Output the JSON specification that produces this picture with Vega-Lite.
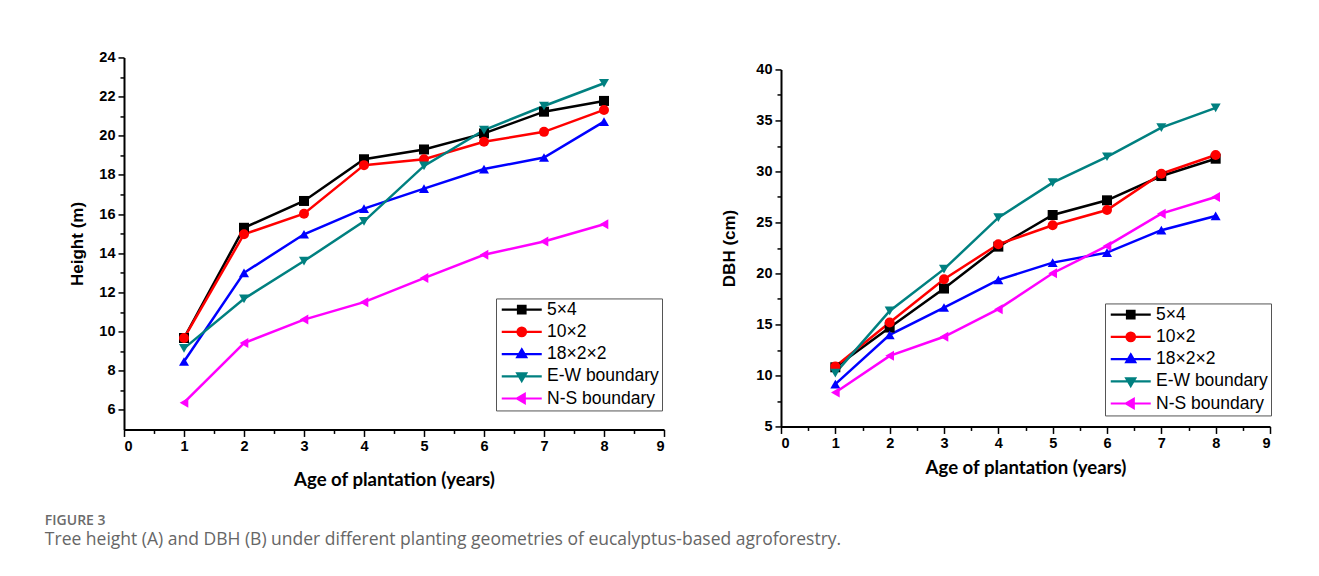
{
  "$schema": "https://vega.github.io/schema/vega-lite/v6.json",
  "padding": {"left": 44, "top": 49, "right": 0, "bottom": 0},
  "spacing": 55,
  "center": true,
  "background": "white",
  "resolve": {"scale": {"color": "independent", "shape": "independent", "stroke": "independent"}, "legend": {"color": "independent", "shape": "independent", "stroke": "independent"}},
  "config": {
    "view": {"stroke": null},
    "axis": {"grid": false, "domainColor": "#000", "tickColor": "#000", "labelColor": "#000", "titleColor": "#000", "domainWidth": 2, "tickWidth": 1.5, "labelFont": "Liberation Sans", "labelFontWeight": "bold", "labelFontSize": 14.5, "titleFont": "Liberation Sans", "titleFontWeight": "bold"},
    "legend": {"title": null, "orient": "none", "padding": 2.5, "strokeColor": "#555", "fillColor": "white", "labelFont": "Liberation Sans", "labelFontSize": 17.5, "labelColor": "#000", "rowPadding": 3.2, "symbolSize": 100, "symbolOffset": 14.5, "labelOffset": 16.5, "symbolStrokeWidth": 2.2}
  },
  "title": {"text": "FIGURE 3", "subtitle": "Tree height (A) and DBH (B) under different planting geometries of eucalyptus-based agroforestry.", "orient": "bottom", "anchor": "start", "frame": "bounds", "offset": 24, "dx": -24, "font": "Open Sans", "fontSize": 14, "fontWeight": 600, "color": "#6b6b6b", "subtitleFont": "Open Sans", "subtitleFontSize": 17.5, "subtitleColor": "#666666", "subtitlePadding": 3},
  "datasets": {
    "height": [
      {"age": 1, "series": "5×4", "value": 9.67}, {"age": 2, "series": "5×4", "value": 15.3}, {"age": 3, "series": "5×4", "value": 16.67}, {"age": 4, "series": "5×4", "value": 18.8}, {"age": 5, "series": "5×4", "value": 19.3}, {"age": 6, "series": "5×4", "value": 20.12}, {"age": 7, "series": "5×4", "value": 21.23}, {"age": 8, "series": "5×4", "value": 21.78},
      {"age": 1, "series": "10×2", "value": 9.67}, {"age": 2, "series": "10×2", "value": 14.97}, {"age": 3, "series": "10×2", "value": 16.02}, {"age": 4, "series": "10×2", "value": 18.5}, {"age": 5, "series": "10×2", "value": 18.8}, {"age": 6, "series": "10×2", "value": 19.69}, {"age": 7, "series": "10×2", "value": 20.2}, {"age": 8, "series": "10×2", "value": 21.32},
      {"age": 1, "series": "18×2×2", "value": 8.47}, {"age": 2, "series": "18×2×2", "value": 13.0}, {"age": 3, "series": "18×2×2", "value": 14.97}, {"age": 4, "series": "18×2×2", "value": 16.28}, {"age": 5, "series": "18×2×2", "value": 17.3}, {"age": 6, "series": "18×2×2", "value": 18.3}, {"age": 7, "series": "18×2×2", "value": 18.89}, {"age": 8, "series": "18×2×2", "value": 20.72},
      {"age": 1, "series": "E-W boundary", "value": 9.14}, {"age": 2, "series": "E-W boundary", "value": 11.67}, {"age": 3, "series": "E-W boundary", "value": 13.6}, {"age": 4, "series": "E-W boundary", "value": 15.63}, {"age": 5, "series": "E-W boundary", "value": 18.46}, {"age": 6, "series": "E-W boundary", "value": 20.29}, {"age": 7, "series": "E-W boundary", "value": 21.52}, {"age": 8, "series": "E-W boundary", "value": 22.68},
      {"age": 1, "series": "N-S boundary", "value": 6.37}, {"age": 2, "series": "N-S boundary", "value": 9.41}, {"age": 3, "series": "N-S boundary", "value": 10.61}, {"age": 4, "series": "N-S boundary", "value": 11.5}, {"age": 5, "series": "N-S boundary", "value": 12.73}, {"age": 6, "series": "N-S boundary", "value": 13.92}, {"age": 7, "series": "N-S boundary", "value": 14.6}, {"age": 8, "series": "N-S boundary", "value": 15.48}
    ],
    "dbh": [
      {"age": 1, "series": "5×4", "value": 10.8}, {"age": 2, "series": "5×4", "value": 14.7}, {"age": 3, "series": "5×4", "value": 18.52}, {"age": 4, "series": "5×4", "value": 22.63}, {"age": 5, "series": "5×4", "value": 25.73}, {"age": 6, "series": "5×4", "value": 27.17}, {"age": 7, "series": "5×4", "value": 29.55}, {"age": 8, "series": "5×4", "value": 31.25},
      {"age": 1, "series": "10×2", "value": 10.88}, {"age": 2, "series": "10×2", "value": 15.19}, {"age": 3, "series": "10×2", "value": 19.44}, {"age": 4, "series": "10×2", "value": 22.86}, {"age": 5, "series": "10×2", "value": 24.72}, {"age": 6, "series": "10×2", "value": 26.22}, {"age": 7, "series": "10×2", "value": 29.78}, {"age": 8, "series": "10×2", "value": 31.61},
      {"age": 1, "series": "18×2×2", "value": 9.15}, {"age": 2, "series": "18×2×2", "value": 13.98}, {"age": 3, "series": "18×2×2", "value": 16.66}, {"age": 4, "series": "18×2×2", "value": 19.37}, {"age": 5, "series": "18×2×2", "value": 21.06}, {"age": 6, "series": "18×2×2", "value": 22.04}, {"age": 7, "series": "18×2×2", "value": 24.24}, {"age": 8, "series": "18×2×2", "value": 25.64},
      {"age": 1, "series": "E-W boundary", "value": 10.23}, {"age": 2, "series": "E-W boundary", "value": 16.33}, {"age": 3, "series": "E-W boundary", "value": 20.42}, {"age": 4, "series": "E-W boundary", "value": 25.47}, {"age": 5, "series": "E-W boundary", "value": 28.9}, {"age": 6, "series": "E-W boundary", "value": 31.44}, {"age": 7, "series": "E-W boundary", "value": 34.29}, {"age": 8, "series": "E-W boundary", "value": 36.24},
      {"age": 1, "series": "N-S boundary", "value": 8.33}, {"age": 2, "series": "N-S boundary", "value": 11.92}, {"age": 3, "series": "N-S boundary", "value": 13.79}, {"age": 4, "series": "N-S boundary", "value": 16.5}, {"age": 5, "series": "N-S boundary", "value": 20.02}, {"age": 6, "series": "N-S boundary", "value": 22.7}, {"age": 7, "series": "N-S boundary", "value": 25.86}, {"age": 8, "series": "N-S boundary", "value": 27.5}
    ]
  },
  "hconcat": [
    {
      "width": 540,
      "height": 372,
      "data": {"name": "height"},
      "resolve": {"axis": {"x": "independent", "y": "independent"}, "scale": {"color": "independent", "shape": "independent", "stroke": "independent"}, "legend": {"color": "independent", "shape": "independent", "stroke": "independent"}},
      "layer": [
        {
          "mark": {"type": "line", "strokeWidth": 2.5},
          "encoding": {
            "x": {"field": "age", "type": "quantitative", "scale": {"domain": [0, 9], "nice": false, "zero": false}, "axis": {"values": [0, 1, 2, 3, 4, 5, 6, 7, 8, 9], "tickSize": 7, "labelPadding": 3, "title": "Age of plantation (years)", "titleFont": "Lato", "titleFontSize": 18.6, "titlePadding": 18}},
            "y": {"field": "value", "type": "quantitative", "scale": {"domain": [5, 24], "nice": false, "zero": false}, "axis": {"values": [6, 8, 10, 12, 14, 16, 18, 20, 22, 24], "tickSize": 6, "labelPadding": 3, "title": "Height (m)", "titleFontSize": 17, "titlePadding": 12}},
            "color": {"field": "series", "type": "nominal", "scale": {"domain": ["5×4", "10×2", "18×2×2", "E-W boundary", "N-S boundary"], "range": ["#000000", "#ff0000", "#0000ff", "#008080", "#ff00ff"]}, "legend": null}
          }
        },
        {
          "mark": {"type": "point", "filled": true, "size": 100, "opacity": 1},
          "encoding": {
            "x": {"field": "age", "type": "quantitative", "axis": {"orient": "bottom", "values": [0.5, 1.5, 2.5, 3.5, 4.5, 5.5, 6.5, 7.5, 8.5], "labels": false, "domain": false, "tickSize": 4, "title": null}},
            "y": {"field": "value", "type": "quantitative", "axis": {"orient": "left", "values": [7, 9, 11, 13, 15, 17, 19, 21, 23], "labels": false, "domain": false, "tickSize": 4, "title": null}},
            "color": {"field": "series", "type": "nominal", "scale": {"domain": ["5×4", "10×2", "18×2×2", "E-W boundary", "N-S boundary"], "range": ["#000000", "#ff0000", "#0000ff", "#008080", "#ff00ff"]}, "legend": null},
            "shape": {"field": "series", "type": "nominal", "scale": {"domain": ["5×4", "10×2", "18×2×2", "E-W boundary", "N-S boundary"], "range": ["square", "circle", "triangle-up", "triangle-down", "triangle-left"]}, "legend": null}
          }
        },
        {
          "transform": [{"filter": "false"}],
          "mark": {"type": "point", "filled": true, "size": 100, "opacity": 1, "strokeWidth": 2.2},
          "encoding": {
            "x": {"field": "age", "type": "quantitative", "axis": null},
            "y": {"field": "value", "type": "quantitative", "axis": null},
            "color": {"field": "series", "type": "nominal", "scale": {"domain": ["5×4", "10×2", "18×2×2", "E-W boundary", "N-S boundary"], "range": ["#000000", "#ff0000", "#0000ff", "#008080", "#ff00ff"]}, "legend": {"legendX": 372, "legendY": 241}},
            "stroke": {"field": "series", "type": "nominal", "scale": {"domain": ["5×4", "10×2", "18×2×2", "E-W boundary", "N-S boundary"], "range": ["#000000", "#ff0000", "#0000ff", "#008080", "#ff00ff"]}, "legend": {"legendX": 372, "legendY": 241}},
            "shape": {"field": "series", "type": "nominal", "scale": {"domain": ["5×4", "10×2", "18×2×2", "E-W boundary", "N-S boundary"], "range": ["M-4,0H4M-0.75,-0.75H0.75V0.75H-0.75Z", "M-4,0H4M-0.85,0A0.85,0.85,0,1,0,0.85,0A0.85,0.85,0,1,0,-0.85,0Z", "M-4,0H4M0,-0.95L0.9,0.6L-0.9,0.6Z", "M-4,0H4M0,0.95L0.9,-0.6L-0.9,-0.6Z", "M-4,0H4M-0.95,0L0.6,-0.9L0.6,0.9Z"]}, "legend": {"legendX": 372, "legendY": 241}}
          }
        }
      ]
    },
    {
      "width": 489,
      "height": 357,
      "data": {"name": "dbh"},
      "resolve": {"axis": {"x": "independent", "y": "independent"}, "scale": {"color": "independent", "shape": "independent", "stroke": "independent"}, "legend": {"color": "independent", "shape": "independent", "stroke": "independent"}},
      "layer": [
        {
          "mark": {"type": "line", "strokeWidth": 2.5},
          "encoding": {
            "x": {"field": "age", "type": "quantitative", "scale": {"domain": [0, 9], "nice": false, "zero": false}, "axis": {"values": [0, 1, 2, 3, 4, 5, 6, 7, 8, 9], "tickSize": 7, "labelPadding": 3, "title": "Age of plantation (years)", "titleFont": "Lato", "titleFontSize": 18.6, "titlePadding": 9}},
            "y": {"field": "value", "type": "quantitative", "scale": {"domain": [5, 40], "nice": false, "zero": false}, "axis": {"values": [5, 10, 15, 20, 25, 30, 35, 40], "tickSize": 6, "labelPadding": 3, "title": "DBH (cm)", "titleFontSize": 17, "titlePadding": 17}},
            "color": {"field": "series", "type": "nominal", "scale": {"domain": ["5×4", "10×2", "18×2×2", "E-W boundary", "N-S boundary"], "range": ["#000000", "#ff0000", "#0000ff", "#008080", "#ff00ff"]}, "legend": null}
          }
        },
        {
          "mark": {"type": "point", "filled": true, "size": 100, "opacity": 1},
          "encoding": {
            "x": {"field": "age", "type": "quantitative", "axis": {"orient": "bottom", "values": [0.5, 1.5, 2.5, 3.5, 4.5, 5.5, 6.5, 7.5, 8.5], "labels": false, "domain": false, "tickSize": 4, "title": null}},
            "y": {"field": "value", "type": "quantitative", "axis": {"orient": "left", "values": [7.5, 12.5, 17.5, 22.5, 27.5, 32.5, 37.5], "labels": false, "domain": false, "tickSize": 4, "title": null}},
            "color": {"field": "series", "type": "nominal", "scale": {"domain": ["5×4", "10×2", "18×2×2", "E-W boundary", "N-S boundary"], "range": ["#000000", "#ff0000", "#0000ff", "#008080", "#ff00ff"]}, "legend": null},
            "shape": {"field": "series", "type": "nominal", "scale": {"domain": ["5×4", "10×2", "18×2×2", "E-W boundary", "N-S boundary"], "range": ["square", "circle", "triangle-up", "triangle-down", "triangle-left"]}, "legend": null}
          }
        },
        {
          "transform": [{"filter": "false"}],
          "mark": {"type": "point", "filled": true, "size": 100, "opacity": 1, "strokeWidth": 2.2},
          "encoding": {
            "x": {"field": "age", "type": "quantitative", "axis": null},
            "y": {"field": "value", "type": "quantitative", "axis": null},
            "color": {"field": "series", "type": "nominal", "scale": {"domain": ["5×4", "10×2", "18×2×2", "E-W boundary", "N-S boundary"], "range": ["#000000", "#ff0000", "#0000ff", "#008080", "#ff00ff"]}, "legend": {"legendX": 324, "legendY": 234}},
            "stroke": {"field": "series", "type": "nominal", "scale": {"domain": ["5×4", "10×2", "18×2×2", "E-W boundary", "N-S boundary"], "range": ["#000000", "#ff0000", "#0000ff", "#008080", "#ff00ff"]}, "legend": {"legendX": 324, "legendY": 234}},
            "shape": {"field": "series", "type": "nominal", "scale": {"domain": ["5×4", "10×2", "18×2×2", "E-W boundary", "N-S boundary"], "range": ["M-4,0H4M-0.75,-0.75H0.75V0.75H-0.75Z", "M-4,0H4M-0.85,0A0.85,0.85,0,1,0,0.85,0A0.85,0.85,0,1,0,-0.85,0Z", "M-4,0H4M0,-0.95L0.9,0.6L-0.9,0.6Z", "M-4,0H4M0,0.95L0.9,-0.6L-0.9,-0.6Z", "M-4,0H4M-0.95,0L0.6,-0.9L0.6,0.9Z"]}, "legend": {"legendX": 324, "legendY": 234}}
          }
        }
      ]
    }
  ]
}
